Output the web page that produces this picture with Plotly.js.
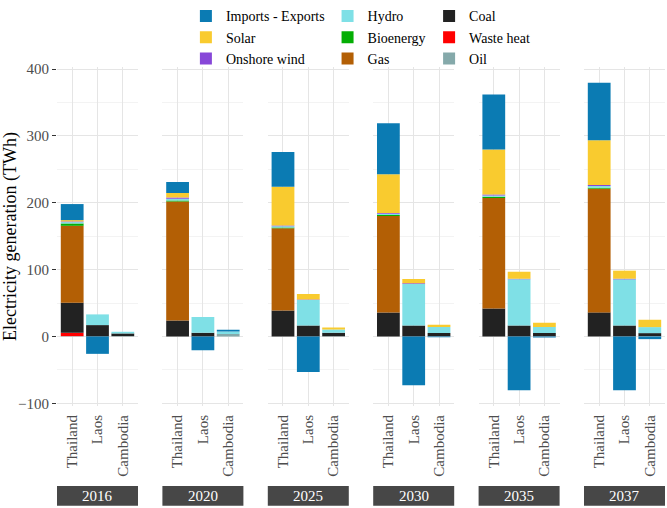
<!DOCTYPE html>
<html>
<head>
<meta charset="utf-8">
<script src="https://cdn.plot.ly/plotly-3.0.1.min.js"></script>
<style>
body { margin: 0; background: #fff; }
#plot { width: 667px; height: 508px; }
</style>
</head>
<body>
<div id="plot"></div>
<script>
// facets (years) and the countries inside each facet
const years = ["2016", "2020", "2025", "2030", "2035", "2037"];
const countries = ["Thailand", "Laos", "Cambodia"];

// electricity generation in TWh, one row per year: [Thailand, Laos, Cambodia]
const oil       = [[0.5, 0, 0.5], [0, 0, 3.5], [0, 0, 0.5], [0, 0, 0.5], [0, 0, 0.5], [0, 0, 0.5]];
const wasteHeat = [[5, 0, 0], [0, 0, 0], [0, 0, 0], [0, 0, 0], [0, 0, 0], [0, 0, 0]];
const coal      = [[45, 17, 4], [24, 5.5, 0], [39, 16.4, 5], [36, 16.4, 4.5], [42, 16.4, 4.5], [36, 16.4, 4.5]];
const gas       = [[115, 0, 0], [178, 0, 0], [123, 0, 0], [144, 0, 0], [165, 0, 0], [185, 0, 0]];
const bioenergy = [[3.5, 0, 0], [1.5, 0, 0], [1, 0, 0], [1.5, 0, 0], [2, 0, 0], [1.5, 0, 0]];
const hydro     = [[2, 16, 2.5], [2.5, 23.5, 4], [2, 38, 5], [2, 62, 9], [2, 69, 9], [2.5, 69, 9]];
const wind      = [[1, 0, 0], [2, 0, 0], [1, 1, 0], [1, 1, 0], [1.5, 1, 0], [1.5, 1, 0]];
const solar     = [[2, 0, 0], [6.5, 0, 0], [58, 8, 3], [58, 6.5, 3.5], [67, 10.5, 6.5], [67, 12, 11]];
const imports   = [[24, -26, 0], [16.5, -20.5, 2.5], [52, -53, 0], [76.5, -73, -1], [82.5, -80.5, -1.5], [86, -80.5, -4]];

// stacking order is bottom -> top; legend column and rank give the 3x3 legend
let sources = [
    {name: "Oil", values: oil, color: "#85A9AA", legend: "legend3", rank: 9},
    {name: "Waste heat", values: wasteHeat, color: "#FF0000", legend: "legend3", rank: 8},
    {name: "Coal", values: coal, color: "#222222", legend: "legend3", rank: 7},
    {name: "Gas", values: gas, color: "#B35F05", legend: "legend2", rank: 6},
    {name: "Bioenergy", values: bioenergy, color: "#04AE04", legend: "legend2", rank: 5},
    {name: "Hydro", values: hydro, color: "#7FE0E6", legend: "legend2", rank: 4},
    {name: "Onshore wind", values: wind, color: "#8747D8", legend: "legend", rank: 3},
    {name: "Solar", values: solar, color: "#F9CB2F", legend: "legend", rank: 2},
    {name: "Imports - Exports", values: imports, color: "#0B7BB3", legend: "legend", rank: 1}
];

let serif = "Liberation Serif";

// one trace per source per facet
let data = [];
sources.forEach(src => {
    years.forEach((yr, i) => {
        data.push({
            type: "bar",
            name: src.name,
            x: countries,
            y: src.values[i],
            xaxis: i === 0 ? "x" : "x" + (i + 1),
            yaxis: "y",
            marker: {color: src.color, line: {width: 0}},
            legend: src.legend,
            legendrank: src.rank,
            legendgroup: src.name,
            showlegend: i === 0,
            hoverinfo: "skip"
        });
    });
});

// panel geometry: 6 facets with a gap between them
let panelW = 81 / 608;
let step = 105.4 / 608;

let layout = {
    width: 667,
    height: 508,
    margin: {l: 57, r: 2, t: 66, b: 102},
    paper_bgcolor: "#fff",
    plot_bgcolor: "#fff",
    barmode: "relative",
    bargap: 0.1,
    font: {family: serif, size: 15, color: "#4D4D4D"},
    yaxis: {
        anchor: "x",
        range: [-104, 403],
        tick0: 0,
        dtick: 100,
        ticks: "outside",
        ticklen: 4,
        tickcolor: "#333333",
        tickfont: {family: serif, size: 15, color: "#4D4D4D"},
        showgrid: true,
        gridcolor: "#E5E5E5",
        gridwidth: 1,
        minor: {dtick: 50, showgrid: true, gridcolor: "#F0F0F0", gridwidth: 0.8},
        zeroline: false,
        showline: false,
        title: {text: "Electricity generation (TWh)", font: {family: serif, size: 18, color: "#000"}, standoff: 6}
    },
    shapes: [],
    annotations: [],
    showlegend: true
};

years.forEach((yr, i) => {
    let key = i === 0 ? "xaxis" : "xaxis" + (i + 1);
    let ref = i === 0 ? "x" : "x" + (i + 1);
    layout[key] = {
        domain: [i * step, i * step + panelW],
        anchor: "y",
        type: "category",
        categoryorder: "array",
        categoryarray: countries,
        range: [-0.6, 2.6],
        showgrid: true,
        gridcolor: "#E5E5E5",
        gridwidth: 1,
        ticks: "",
        tickangle: -90,
        ticklabelstandoff: 5,
        tickfont: {family: serif, size: 15, color: "#4D4D4D"},
        zeroline: false,
        showline: false
    };
    // strip below the axis labels
    layout.shapes.push({
        type: "rect",
        xref: ref + " domain",
        yref: "paper",
        x0: 0, x1: 1,
        y0: -0.236, y1: -0.294,
        fillcolor: "#474747",
        line: {width: 0},
        layer: "below"
    });
    layout.annotations.push({
        text: yr,
        xref: ref + " domain",
        yref: "paper",
        x: 0.5, y: -0.265,
        xanchor: "center",
        yanchor: "middle",
        showarrow: false,
        font: {family: serif, size: 15, color: "#FFFFFF"}
    });
});

// three legend columns on top
let legendBase = {
    y: 1.193,
    yanchor: "top",
    xanchor: "left",
    orientation: "v",
    bgcolor: "rgba(0,0,0,0)",
    font: {family: serif, size: 14, color: "#000"},
    tracegroupgap: 0
};
layout.legend = Object.assign({}, legendBase, {x: 0.212});
layout.legend2 = Object.assign({}, legendBase, {x: 0.445});
layout.legend3 = Object.assign({}, legendBase, {x: 0.612});

Plotly.newPlot("plot", data, layout, {displayModeBar: false, staticPlot: true});
</script>
</body>
</html>
